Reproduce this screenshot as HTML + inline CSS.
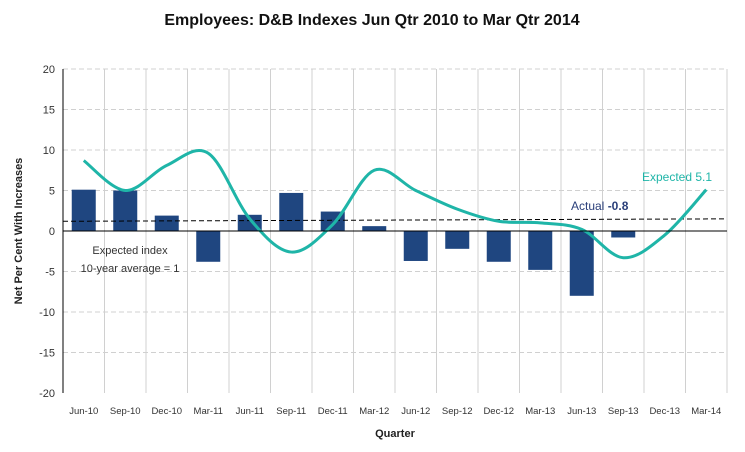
<!DOCTYPE html>
<html><head><meta charset="utf-8"><style>
body{margin:0;background:#fff;font-family:"Liberation Sans",sans-serif}
svg text{font-family:"Liberation Sans",sans-serif}
</style></head><body>
<svg id="c" width="745" height="447" viewBox="0 0 745 447" xmlns="http://www.w3.org/2000/svg">
<text x="372" y="25" text-anchor="middle" font-size="16" font-weight="bold" fill="#111">Employees: D&amp;B Indexes Jun Qtr 2010 to Mar Qtr 2014</text>
<text transform="translate(22,231) rotate(-90)" text-anchor="middle" font-size="11" font-weight="bold" fill="#222">Net Per Cent With Increases</text>
<text x="395" y="437" text-anchor="middle" font-size="11" font-weight="bold" fill="#222">Quarter</text>
<g id="grid"></g><g id="bars"></g><g id="lines"></g><g id="axes"></g>
<text x="130" y="254" text-anchor="middle" font-size="11" fill="#333">Expected index</text>
<text x="130" y="272" text-anchor="middle" font-size="11" fill="#333">10-year average = 1</text>
<text x="571" y="210" font-size="12" fill="#2a3f7a">Actual <tspan font-weight="bold">-0.8</tspan></text>
<text x="642" y="181" font-size="12" fill="#1fb5a8">Expected 5.1</text>
</svg>
<script>
const categories=["Jun-10","Sep-10","Dec-10","Mar-11","Jun-11","Sep-11","Dec-11","Mar-12","Jun-12","Sep-12","Dec-12","Mar-13","Jun-13","Sep-13","Dec-13","Mar-14"];
const actual=[5.1,5.0,1.9,-3.8,2.0,4.7,2.4,0.6,-3.7,-2.2,-3.8,-4.8,-8.0,-0.8,null,null];
const expected=[8.7,5.0,8.1,9.6,1.5,-2.6,0.8,7.5,5.0,2.7,1.2,1.0,0.2,-3.3,-0.5,5.1];
const averageLine=[1.2,1.5];
const yTicks=[20,15,10,5,0,-5,-10,-15,-20];
const NS="http://www.w3.org/2000/svg";
const x0=63,x1=727,yTop=69,yBot=393;
const bw=(x1-x0)/categories.length;
const X=i=>x0+bw*(i+0.5);
const Y=v=>yTop+(20-v)*(yBot-yTop)/40;
function mk(t,a,p){const e=document.createElementNS(NS,t);for(const k in a)e.setAttribute(k,a[k]);document.getElementById(p).appendChild(e);return e;}
yTicks.forEach(v=>{
 if(v!==0&&v!==-20){const g=mk("line",{x1:x0,x2:x1,y1:Y(v),y2:Y(v),stroke:"#d0d0d0","stroke-dasharray":"5,3"},"grid");
 
 }
 const t=mk("text",{x:x0-8,y:Y(v)+4,"text-anchor":"end","font-size":"11",fill:"#333"},"axes");t.textContent=v;
 
 
});
categories.forEach((c,i)=>{
 const gl=mk("line",{x1:x0+bw*(i+1),x2:x0+bw*(i+1),y1:yTop,y2:yBot,stroke:"#d0d0d0"},"grid");
 
 
 const t=mk("text",{x:X(i),y:414,"text-anchor":"middle","font-size":"9.5",fill:"#333"},"axes");t.textContent=c;
 
 
 const v=actual[i];if(v==null)return;
 const b=mk("rect",{x:X(i)-12,width:24,y:Math.min(Y(v),Y(0)),height:Math.abs(Y(v)-Y(0)),fill:"#1f4680"},"bars");
 
 
});
const ax=mk("line",{x1:x0,x2:x0,y1:yTop,y2:yBot,stroke:"#000"},"axes");


const zx=mk("line",{x1:x0,x2:x1,y1:Y(0),y2:Y(0),stroke:"#000"},"axes");


const av=mk("line",{x1:x0,x2:x1,y1:Y(averageLine[0]),y2:Y(averageLine[1]),stroke:"#000","stroke-dasharray":"5,3"},"lines");


const P=expected.map((v,i)=>[X(i),Y(v)]);
let d="M"+P[0][0]+","+P[0][1];
for(let i=0;i<P.length-1;i++){const p0=P[Math.max(0,i-1)],p1=P[i],p2=P[i+1],p3=P[Math.min(P.length-1,i+2)];
 d+=" C"+(p1[0]+(p2[0]-p0[0])/6)+","+(p1[1]+(p2[1]-p0[1])/6)+" "+(p2[0]-(p3[0]-p1[0])/6)+","+(p2[1]-(p3[1]-p1[1])/6)+" "+p2[0]+","+p2[1];}
const ln=mk("path",{d:d,fill:"none",stroke:"#1fb5a8","stroke-width":"3"},"lines");


</script>
</body></html>
